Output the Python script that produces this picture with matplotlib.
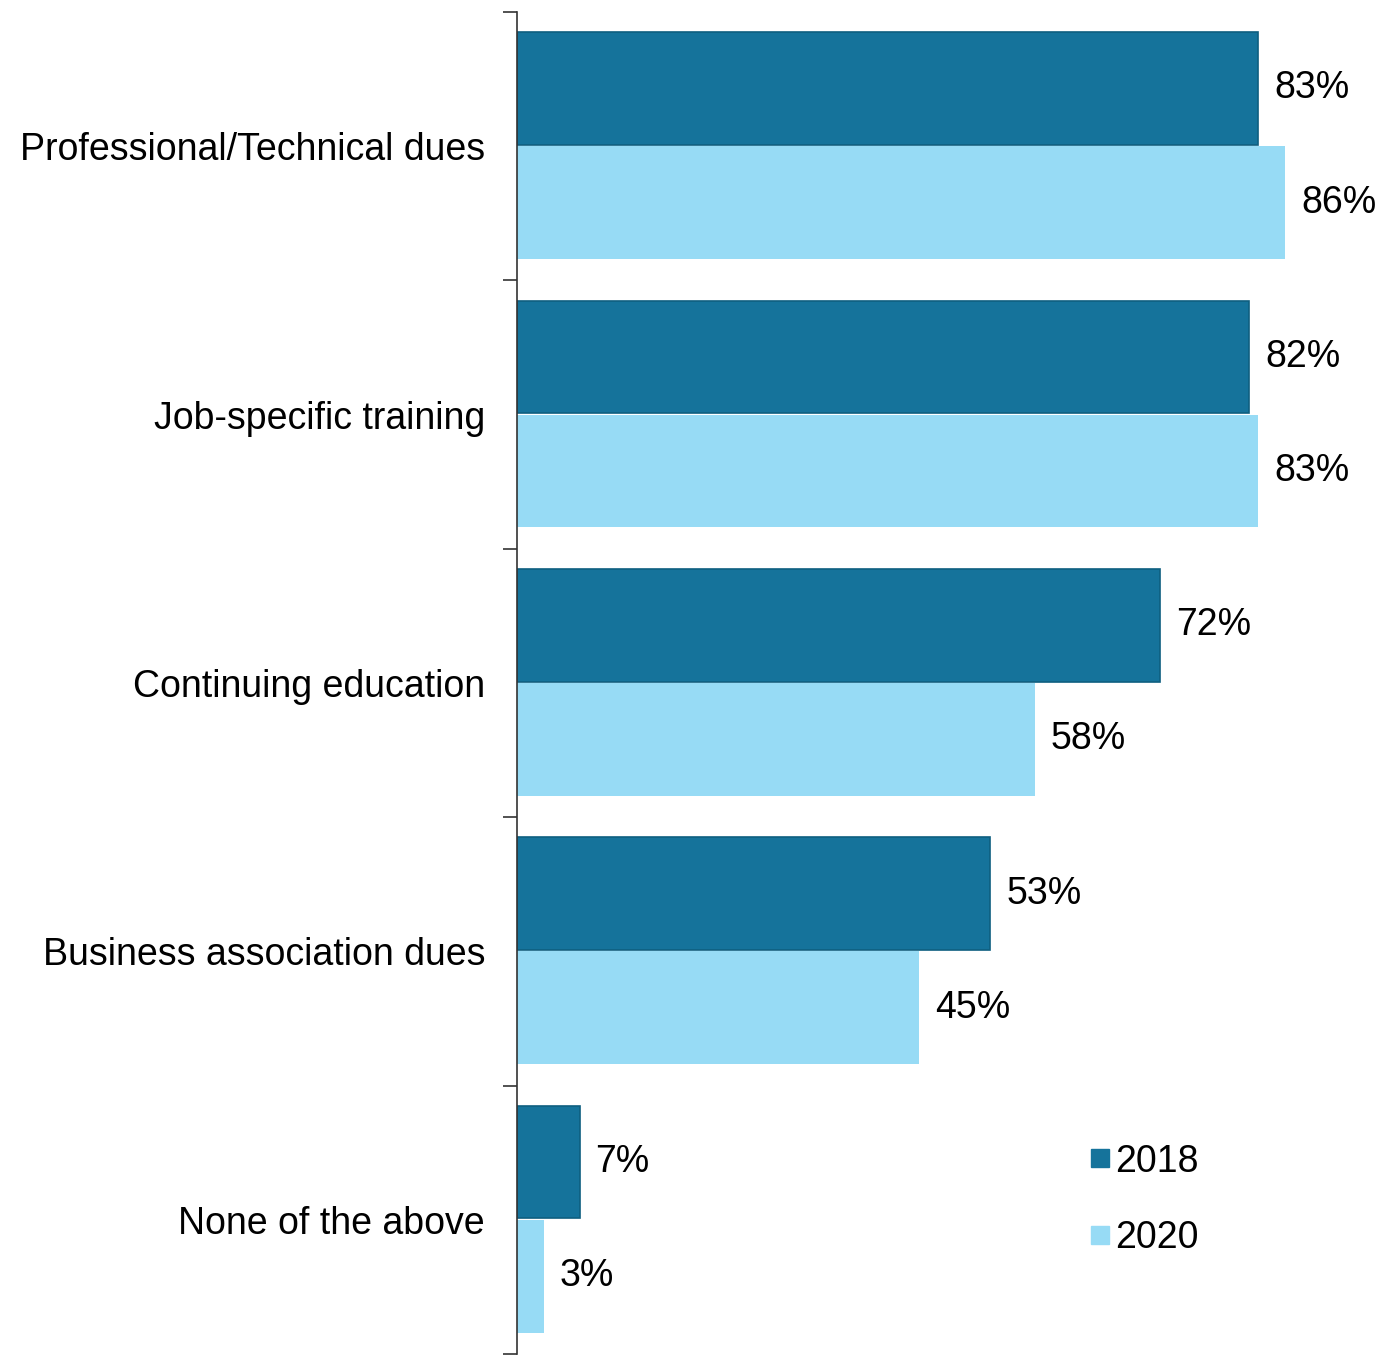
import numpy as np
import matplotlib.pyplot as plt
from matplotlib.lines import Line2D

plt.rcParams['font.family'] = ['Liberation Sans', 'DejaVu Sans']

categories = ['Professional/Technical dues', 'Job-specific training',
              'Continuing education', 'Business association dues',
              'None of the above']
values_2018 = [83, 82, 72, 53, 7]
values_2020 = [86, 83, 58, 45, 3]
years = ['2018', '2020']

DARK = '#15739b'
LIGHT = '#97dbf5'
FS = 27

fig = plt.figure(figsize=(13.85, 13.55), dpi=100)
ax = fig.add_axes([517 / 1385, 1 / 1355, 868 / 1385, 1342 / 1355])

idx = np.arange(len(categories))
h = 0.42
ax.barh(idx + 0.285, values_2018, height=h, color=DARK,
        edgecolor='#0e5f80', linewidth=1.2)
ax.barh(idx + 0.71, values_2020, height=h, color=LIGHT, linewidth=0)

for i, (a, b) in enumerate(zip(values_2018, values_2020)):
    ax.text(a + 1.8, i + 0.285, f'{a}%', va='center', ha='left', fontsize=FS)
    ax.text(b + 1.8, i + 0.71, f'{b}%', va='center', ha='left', fontsize=FS)

ax.set_xlim(0, 97.2)
ax.set_ylim(len(categories), 0)

ax.set_yticks(idx + 0.5)
ax.set_yticklabels(categories, fontsize=FS)
ax.tick_params(axis='y', which='major', length=0, pad=23)
ax.set_yticks(np.arange(len(categories) + 1), minor=True)
ax.tick_params(axis='y', which='minor', length=10, width=1.2, color='#333333')
ax.set_xticks([])

for s in ['top', 'right', 'bottom']:
    ax.spines[s].set_visible(False)
ax.spines['left'].set_color('#333333')
ax.spines['left'].set_linewidth(1.2)

handles = [Line2D([], [], marker='s', linestyle='none', markersize=13,
                  markerfacecolor=c, markeredgecolor=c)
           for c in (DARK, LIGHT)]
ax.legend(handles, years, loc='upper left', bbox_to_anchor=(0.641, 0.168),
          frameon=False, fontsize=FS, handlelength=0.6, handletextpad=0.12,
          labelspacing=1.07, borderaxespad=0)

fig.savefig('out.png', dpi=100)
